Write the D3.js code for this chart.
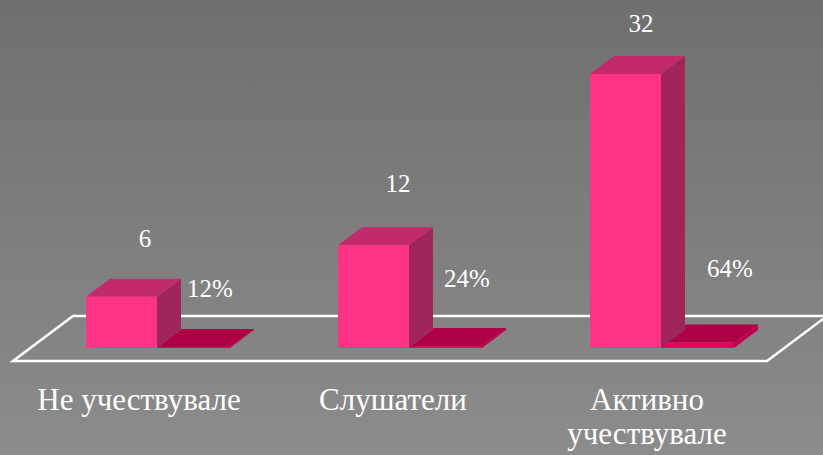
<!DOCTYPE html>
<html>
<meta charset="utf-8">
<style>
body { margin: 0; background: #7a7a7a; }
#chart { position: relative; width: 823px; height: 455px; }
svg { display: block; }
.lbl {
    position: absolute;
    color: white;
    font-family: "Liberation Serif", serif;
    line-height: 1;
    white-space: nowrap;
    transform: translateX(-50%);
    text-align: center;
}
</style>
<body>
<div id="chart"><svg width="823" height="455"></svg></div>
<script src="https://d3js.org/d3.v7.min.js"></script>
<script>
var categories = ["Не учествувале", "Слушатели", "Активно учествувале"];
var counts = [6, 12, 32];
var shares = [0.12, 0.24, 0.64];
var shareLabels = ["12%", "24%", "64%"];
var series = ["count", "share"];

var svg = d3.select("svg");
var chart = d3.select("#chart");
var width = 823, height = 455;

var defs = svg.append("defs");
var grad = defs.append("linearGradient").attr("id", "bg")
    .attr("x1", 0).attr("y1", 0).attr("x2", 0).attr("y2", 1);
grad.append("stop").attr("offset", "0%").attr("stop-color", "#6f6f6f");
grad.append("stop").attr("offset", "100%").attr("stop-color", "#8c8c8c");
svg.append("rect").attr("width", width).attr("height", height).attr("fill", "url(#bg)");

// depth offset of the 3d look
var dx = 24, dy = 18;

var xScale = d3.scaleBand()
    .domain(categories)
    .range([32, 788])
    .paddingInner(108 / 252)
    .paddingOuter(54 / 252);

var xInner = d3.scaleBand()
    .domain(series)
    .range([0, xScale.bandwidth()]);

var yScale = d3.scaleLinear()
    .domain([0, 32])
    .range([348, 74]);

// floor
var fl = { y0: yScale(0) + 13, x0: 13, x1: 767, ddx: 60, ddy: 45 };
svg.append("path")
    .attr("d", "M" + fl.x0 + "," + fl.y0 + " L" + fl.x1 + "," + fl.y0 +
        " L" + (fl.x1 + fl.ddx) + "," + (fl.y0 - fl.ddy) +
        " L" + (fl.x0 + fl.ddx) + "," + (fl.y0 - fl.ddy) + " Z")
    .attr("fill", "none")
    .attr("stroke", "white")
    .attr("stroke-width", 2.5);

function box(g, x, w, v, cFront, cTop, cSide) {
    var y0 = yScale(0), y1 = yScale(v);
    g.append("path")
        .attr("d", "M" + (x + w) + "," + y1 + " l" + dx + "," + (-dy) + " L" + (x + w + dx) + "," + (y0 - dy) + " L" + (x + w) + "," + y0 + " Z")
        .attr("fill", cSide);
    g.append("path")
        .attr("d", "M" + x + "," + y1 + " l" + dx + "," + (-dy) + " l" + w + ",0 l" + (-dx) + "," + dy + " Z")
        .attr("fill", cTop);
    g.append("rect")
        .attr("x", x).attr("y", y1)
        .attr("width", w).attr("height", Math.max(0.5, y0 - y1))
        .attr("fill", cFront);
}

var groups = svg.selectAll("g.grp")
    .data(categories)
    .enter().append("g")
    .attr("class", "grp");

groups.each(function(c, i) {
    var g = d3.select(this);
    var x0 = xScale(c);
    var w = xInner.bandwidth();
    box(g, x0 + xInner("share"), w, shares[i], "#e6005c", "#ad0045", "#c00050");
    box(g, x0 + xInner("count"), w - 1, counts[i], "#ff3385", "#c32a6a", "#a0255a");
});

// html labels, placed by baseline (ascent of Liberation Serif ~0.84em at line-height 1)
function label(text, cx, baseline, size) {
    return chart.append("div")
        .attr("class", "lbl")
        .style("left", cx + "px")
        .style("top", (baseline - 0.84 * size) + "px")
        .style("font-size", size + "px")
        .text(text);
}

// value labels (small nudges as placed in the original)
var cntDx = [23, 24, 15], cntDy = [50, 53, 42];
counts.forEach(function(d, i) {
    label(d, xScale(categories[i]) + xInner.bandwidth() / 2 + cntDx[i], yScale(d) - cntDy[i], 25);
});

var pctDx = [16, 21, 32];
shareLabels.forEach(function(d, i) {
    label(d, xScale(categories[i]) + xInner("share") + xInner.bandwidth() / 2 + pctDx[i], yScale(0) - 51 - i * 10, 25);
});

// category labels
var catLines = [["Не учествувале"], ["Слушатели"], ["Активно", "учествувале"]];
var catDx = [-19, -17, -15];
categories.forEach(function(c, i) {
    catLines[i].forEach(function(line, k) {
        label(line, xScale(c) + xScale.bandwidth() / 2 + catDx[i], yScale(0) + 62 + k * 34, 31);
    });
});
</script>
</body>
</html>
